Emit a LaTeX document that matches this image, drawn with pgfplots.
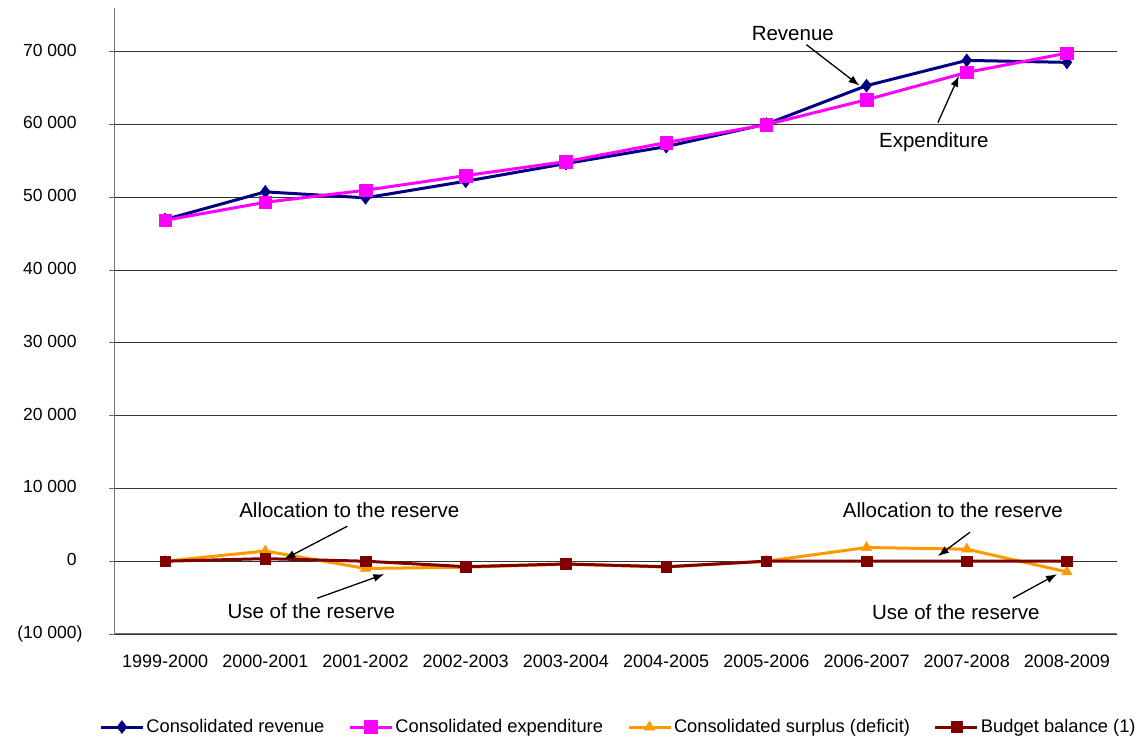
\documentclass[border=0pt]{standalone}
\usepackage{fontspec}
\setmainfont{Liberation Sans}
\usepackage{pgfplots}
\pgfplotsset{compat=1.18}
\usetikzlibrary{arrows.meta}
\definecolor{rev}{RGB}{0,0,128}
\definecolor{expc}{RGB}{255,0,255}
\definecolor{sur}{RGB}{255,153,0}
\definecolor{bal}{RGB}{128,0,0}
\begin{document}
\begin{tikzpicture}[x=1pt,y=1pt]
\path[use as bounding box] (-115,-104) rectangle (1028,634);
\begin{axis}[
  at={(0,0)}, anchor=south west,
  scale only axis, width=1002pt, height=626pt,
  xmin=-0.5, xmax=9.5, ymin=-10000, ymax=76000,
  axis lines*=left,
  axis line style={black!55, line width=1pt},
  xtick={0,...,9},
  xticklabels={1999-2000,2000-2001,2001-2002,2002-2003,2003-2004,2004-2005,2005-2006,2006-2007,2007-2008,2008-2009},
  xtick style={draw=none},
  ytick={-10000,0,10000,20000,30000,40000,50000,60000,70000},
  yticklabels={(10 000),0\phantom{)},10 000\phantom{)},20 000\phantom{)},30 000\phantom{)},40 000\phantom{)},50 000\phantom{)},60 000\phantom{)},70 000\phantom{)}},
  ytick style={black!60, line width=0.8pt},
  tick align=outside, major tick length=6pt,
  ymajorgrids, grid style={black!80, line width=0.8pt},
  yticklabel style={font=\fontsize{17.5}{20}\selectfont, anchor=east, xshift=-23pt},
  xticklabel style={font=\fontsize{18}{21}\selectfont, yshift=-11pt},
  legend columns=4,
  legend style={at={(0.5025,-0.1486)}, anchor=center, draw=none, fill=none,
    font=\fontsize{18.3}{21}\selectfont, inner sep=0pt,
    /tikz/every even column/.append style={column sep=22pt},
    nodes={inner sep=2pt}},
  legend cell align=left,
  legend image code/.code={\draw[mark repeat=2,mark phase=2,#1] plot coordinates {(0pt,0pt) (21pt,0pt) (42pt,0pt)};},
  clip=false,
]
\addplot[rev, line width=3pt, mark=diamond*, mark size=6.5pt, mark options={solid, line width=0.5pt, fill=rev}]
  coordinates {(0,46940) (1,50740) (2,49920) (3,52200) (4,54630) (5,56960) (6,60050) (7,65330) (8,68800) (9,68530)};
\addlegendentry{Consolidated revenue}
\addplot[expc, line width=3pt, mark=square*, mark size=6.3pt, mark options={solid, line width=0.5pt, fill=expc}]
  coordinates {(0,46840) (1,49310) (2,50960) (3,52980) (4,54900) (5,57510) (6,59980) (7,63400) (8,67150) (9,69800)};
\addlegendentry{Consolidated expenditure}
\addplot[sur, line width=3pt, mark=triangle*, mark size=6pt, mark options={solid, line width=0.5pt, fill=sur}]
  coordinates {(0,0) (1,1400) (2,-1000) (3,-820) (4,-400) (5,-800) (6,0) (7,1880) (8,1650) (9,-1470)};
\addlegendentry{Consolidated surplus (deficit)}
\addplot[bal, line width=3pt, mark=square*, mark size=5.3pt, mark options={solid, line width=0.5pt, fill=bal}]
  coordinates {(0,0) (1,350) (2,0) (3,-750) (4,-380) (5,-760) (6,0) (7,0) (8,0) (9,0)};
\addlegendentry{Budget balance (1)}

\begin{scope}[font=\fontsize{20.5}{23}\selectfont]
\node at (axis cs:6.264,72470) {Revenue};
\node at (axis cs:7.672,57510) {Expenditure};
\node at (axis cs:1.838,7000) {Allocation to the reserve};
\node at (axis cs:1.459,-6860) {Use of the reserve};
\node at (axis cs:7.862,7000) {Allocation to the reserve};
\node at (axis cs:7.892,-7000) {Use of the reserve};
\end{scope}
\begin{scope}[line width=1.3pt, -{Latex[length=11pt,width=8pt]}]
\draw (axis cs:6.40,70960) -- (axis cs:6.93,65330);
\draw (axis cs:7.712,60250) -- (axis cs:7.922,66700);
\draw (axis cs:1.818,4800) -- (axis cs:1.189,275);
\draw (axis cs:1.519,-5080) -- (axis cs:2.188,-1780);
\draw (axis cs:8.032,3980) -- (axis cs:7.712,690);
\draw (axis cs:8.461,-5080) -- (axis cs:8.901,-1780);
\end{scope}
\end{axis}
\end{tikzpicture}
\end{document}
